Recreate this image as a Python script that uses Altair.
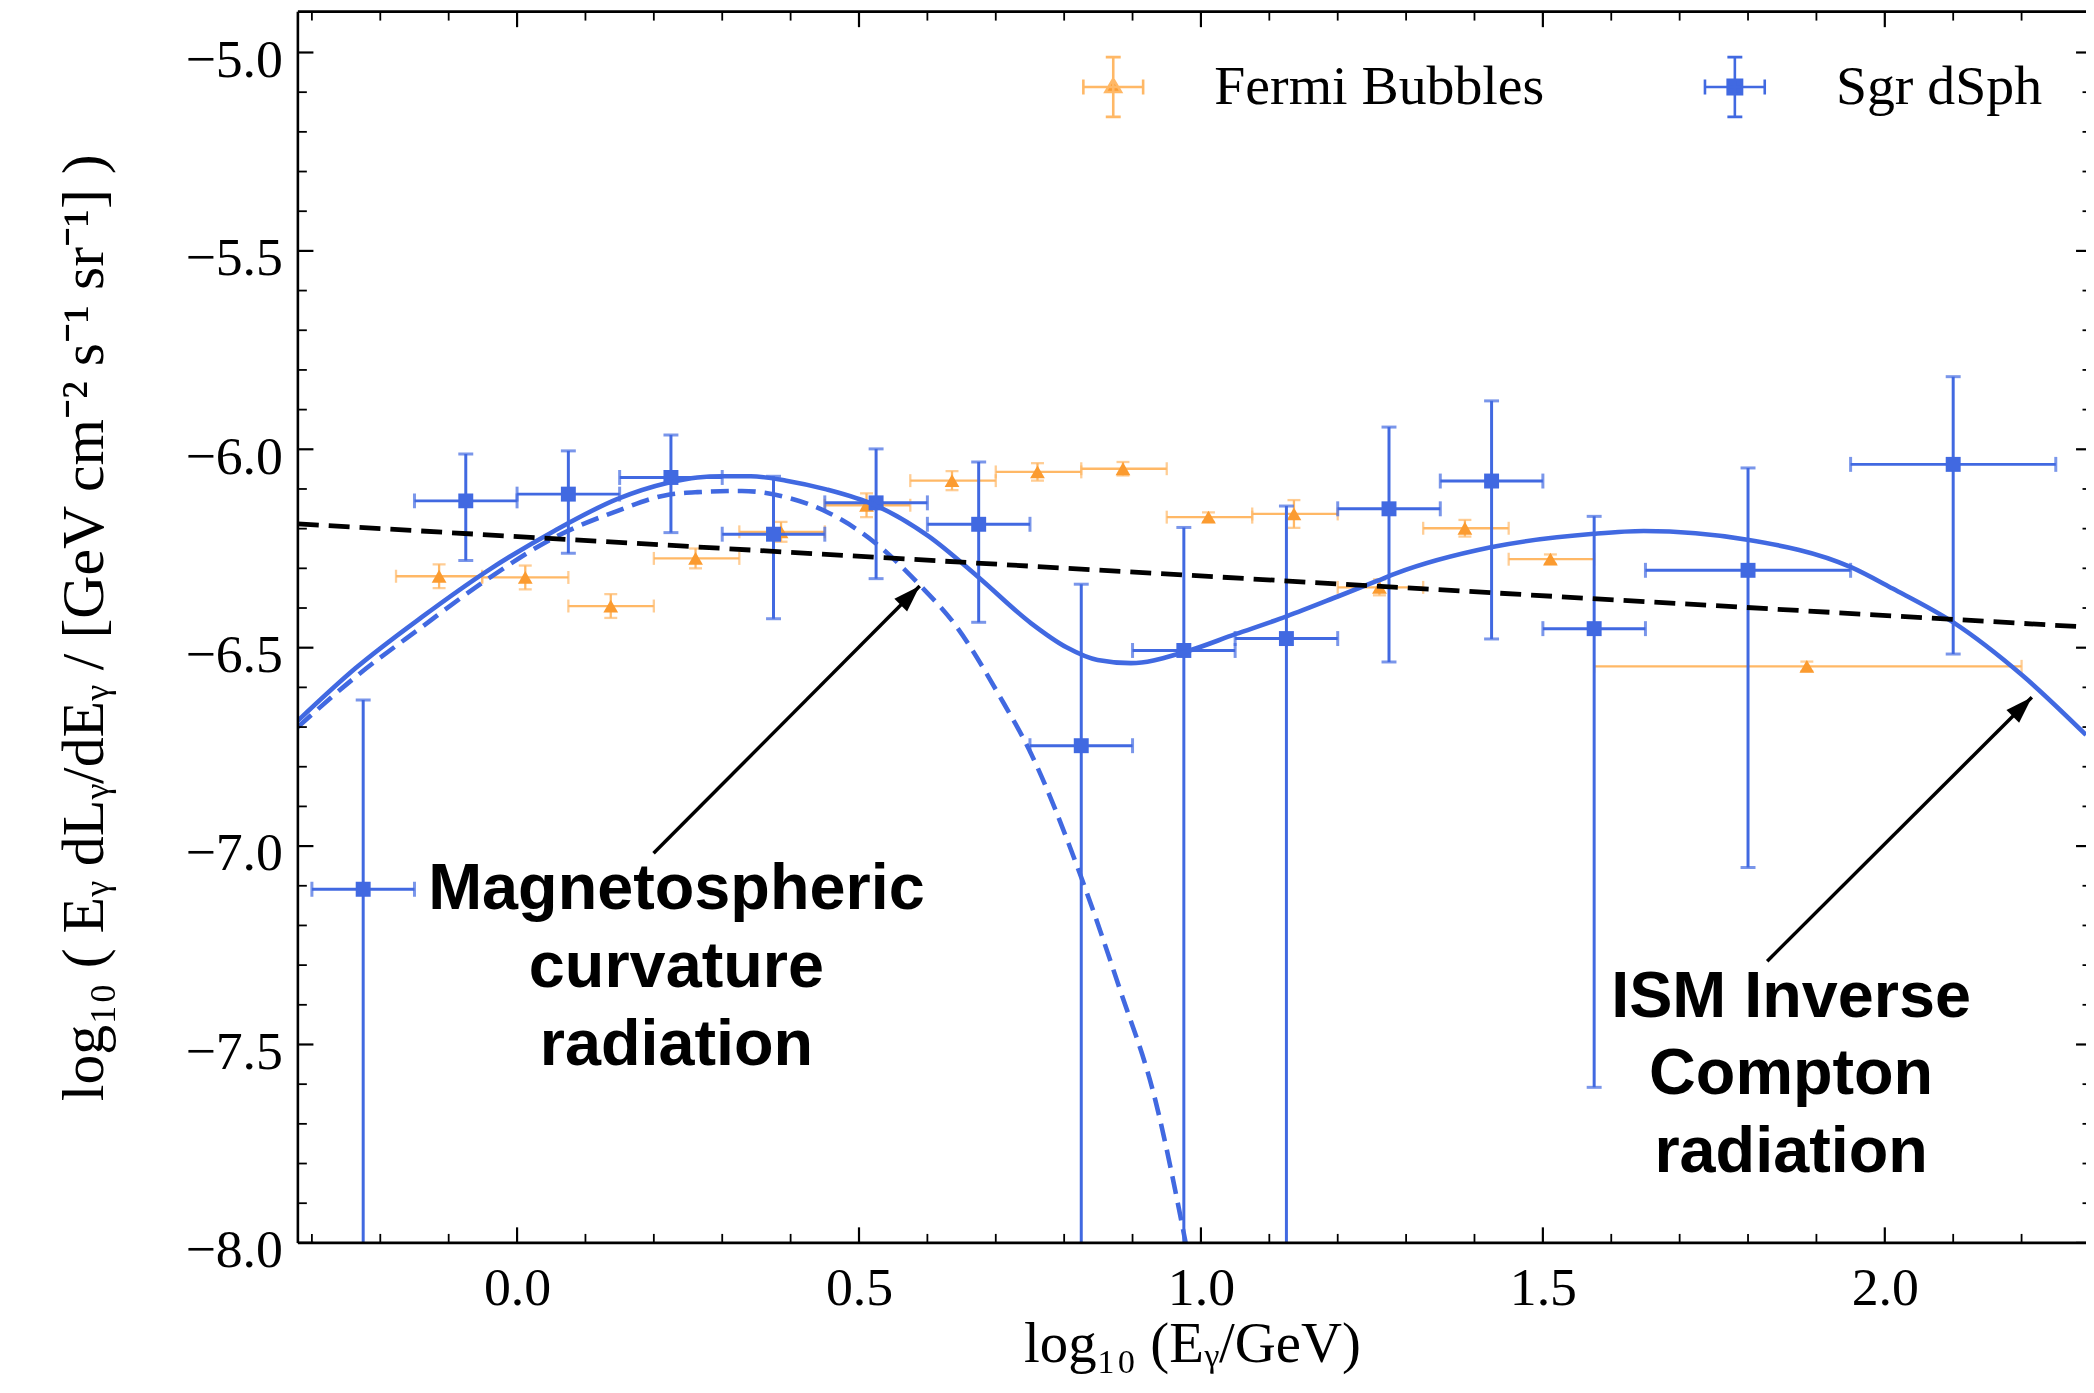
import math
import altair as alt
import pandas as pd

# ------------------------------------------------------------------ data
SERIES = ["Fermi Bubbles", "Sgr dSph"]

# Sgr dSph (blue squares)
sgr_x = [-0.225, -0.075, 0.075, 0.225, 0.375, 0.525, 0.675, 0.825, 0.975, 1.125, 1.275, 1.425, 1.575, 1.800, 2.100]
sgr_x_lo = [-0.30, -0.15, 0.00, 0.15, 0.30, 0.45, 0.60, 0.75, 0.90, 1.05, 1.20, 1.35, 1.50, 1.65, 1.95]
sgr_x_hi = [-0.15, 0.00, 0.15, 0.30, 0.45, 0.60, 0.75, 0.90, 1.05, 1.20, 1.35, 1.50, 1.65, 1.95, 2.25]
sgr_y = [-7.109, -6.130, -6.113, -6.071, -6.214, -6.135, -6.189, -6.747, -6.507, -6.477, -6.150, -6.080, -6.452, -6.305, -6.038]
sgr_y_hi = [-6.632, -6.012, -6.004, -5.964, -6.068, -5.999, -6.032, -6.340, -6.197, -6.143, -5.944, -5.878, -6.169, -6.047, -5.817]
sgr_y_lo = [None, -6.280, -6.262, -6.210, -6.427, -6.326, -6.436, None, None, None, -6.536, -6.478, -7.608, -7.054, -6.516]

# Fermi Bubbles (orange triangles)
fb_x = [-0.114, 0.012, 0.137, 0.261, 0.386, 0.511, 0.636, 0.761, 0.886, 1.011, 1.136, 1.261, 1.386, 1.511, 1.886]
fb_x_lo = [-0.177, -0.051, 0.075, 0.200, 0.325, 0.450, 0.575, 0.700, 0.825, 0.950, 1.075, 1.200, 1.325, 1.450, 1.575]
fb_x_hi = [-0.051, 0.075, 0.200, 0.325, 0.450, 0.575, 0.700, 0.825, 0.950, 1.075, 1.200, 1.325, 1.450, 1.575, 2.200]
fb_y = [-6.320, -6.323, -6.395, -6.275, -6.208, -6.141, -6.079, -6.057, -6.049, -6.171, -6.163, -6.348, -6.199, -6.277, -6.547]
fb_y_err = [0.030, 0.030, 0.030, 0.025, 0.025, 0.030, 0.024, 0.022, 0.017, 0.012, 0.035, 0.020, 0.021, 0.012, 0.012]

# total model (solid blue)
tot_x = [-0.3205, -0.2364, -0.1394, -0.0422, 0.0549, 0.1471, 0.2194, 0.2637, 0.2995, 0.3417, 0.3937, 0.4523,
         0.5238, 0.6016, 0.6730, 0.7513, 0.8033, 0.8489, 0.8977, 0.9757, 1.0503, 1.1253, 1.2001,
         1.2586, 1.2833, 1.4239, 1.5746, 1.6475, 1.7990, 1.9505, 2.0114, 2.0990, 2.2006, 2.2942]
tot_y = [-6.684, -6.552, -6.423, -6.305, -6.205, -6.125, -6.085, -6.071, -6.068, -6.068, -6.079, -6.101,
         -6.141, -6.219, -6.320, -6.438, -6.499, -6.531, -6.539, -6.511, -6.466, -6.421, -6.371,
         -6.331, -6.314, -6.247, -6.213, -6.206, -6.228, -6.297, -6.351, -6.435, -6.569, -6.720]

# magnetospheric curvature component (dashed blue)
mag_x = [-0.3205, -0.2364, -0.1394, -0.0422, 0.0549, 0.1471, 0.2194, 0.2637, 0.3286, 0.3937, 0.4589, 0.5238,
         0.5888, 0.6409, 0.7059, 0.7513, 0.8229, 0.8813, 0.9334, 0.9777]
mag_y = [-6.700, -6.574, -6.448, -6.326, -6.222, -6.155, -6.115, -6.108, -6.105, -6.121, -6.163, -6.236,
         -6.342, -6.443, -6.623, -6.766, -7.069, -7.360, -7.641, -8.000]

# power-law fit (dashed black)
pl_x = [-0.3205, 2.2942]
pl_y = [-6.188, -6.448]

# annotations
ann_text = ["Magnetospheric\ncurvature\nradiation", "ISM Inverse\nCompton\nradiation"]
ann_x = [0.233, 1.863]
ann_y = [-7.159, -7.430]
arr_x0 = [0.1996, 1.8280]
arr_y0 = [-7.018, -7.290]
arr_x1 = [0.5888, 2.2150]
arr_y1 = [-6.3447, -6.6250]

# axis ticks
x_major = [0.0, 0.5, 1.0, 1.5, 2.0]
x_minor = [-0.3, -0.2, -0.1, 0.1, 0.2, 0.3, 0.4, 0.6, 0.7, 0.8, 0.9,
           1.1, 1.2, 1.3, 1.4, 1.6, 1.7, 1.8, 1.9, 2.1, 2.2]
y_major = [-8.0, -7.5, -7.0, -6.5, -6.0, -5.5, -5.0]
y_minor = [-7.9, -7.8, -7.7, -7.6, -7.4, -7.3, -7.2, -7.1, -6.9, -6.8, -6.7, -6.6,
           -6.4, -6.3, -6.2, -6.1, -5.9, -5.8, -5.7, -5.6, -5.4, -5.3, -5.2, -5.1]

# ------------------------------------------------------------------ style
W, H = 1795, 1236
X_DOMAIN = [-0.3205, 2.2942]
Y_DOMAIN = [-8.0, -4.897]
BLUE = "#4169E1"
FB_LINE = "#ffb866"
FB_MARK = "#fb9b30"
SERIF = "Liberation Serif"

XS = alt.Scale(domain=X_DOMAIN, nice=False, zero=False)
YS = alt.Scale(domain=Y_DOMAIN, nice=False, zero=False)

XA = alt.Axis(values=x_major, format=".1f", title="log₁₀ (Eᵧ/GeV)",
              titleX=W / 2, titleY=119, titleAlign="center", titleBaseline="alphabetic",
              titleFontSize=57,
              labelBaseline="alphabetic", labelPadding=62, labelFlush=False,
              labelOverlap=False, labelBound=False, ticks=False, tickSize=0,
              domain=False, grid=False)
YA = alt.Axis(values=y_major, format=".1f",
              title="log₁₀ ( Eᵧ dLᵧ/dEᵧ / [GeV cm⁻² s⁻¹ sr⁻¹] )",
              titleX=-214, titleY=H / 2, titleAngle=270, titleAlign="center",
              titleBaseline="middle", titleFontSize=60,
              labelBaseline="alphabetic", labelOffset=24,
              labelPadding=15.5, labelAlign="right", labelFlush=False,
              labelOverlap=False, labelBound=False, ticks=False, tickSize=0,
              domain=False, grid=False)


def X(f):
    return alt.X(f, type="quantitative", scale=XS, axis=XA)


def Y(f):
    return alt.Y(f, type="quantitative", scale=YS, axis=YA)


layers = []

# ---------------- Fermi Bubbles
fb_df = pd.DataFrame({"x": fb_x, "xlo": fb_x_lo, "xhi": fb_x_hi, "y": fb_y,
                      "ylo": [y - e for y, e in zip(fb_y, fb_y_err)],
                      "yhi": [y + e for y, e in zip(fb_y, fb_y_err)]})
fb_base = alt.Chart(fb_df)
layers.append(fb_base.mark_rule(color=FB_LINE, strokeWidth=2.3, clip=True).encode(
    x=X("xlo"), x2="xhi", y=Y("y")))
layers.append(fb_base.mark_rule(color=FB_LINE, strokeWidth=2.3, clip=True).encode(
    x=X("x"), y=Y("ylo"), y2="yhi"))
fb_ycaps = pd.DataFrame({"x": fb_x + fb_x, "y": list(fb_df["ylo"]) + list(fb_df["yhi"])})
fb_xcaps = pd.DataFrame({"x": fb_x_lo + fb_x_hi, "y": fb_y + fb_y})
layers.append(alt.Chart(fb_ycaps).mark_tick(orient="horizontal", size=13, thickness=2.3,
                                            color=FB_LINE, clip=True).encode(x=X("x"), y=Y("y")))
layers.append(alt.Chart(fb_xcaps).mark_tick(orient="vertical", size=13, thickness=2.3,
                                            color=FB_LINE, clip=True).encode(x=X("x"), y=Y("y")))
layers.append(fb_base.mark_point(shape="triangle-up", size=220, filled=True, color=FB_MARK,
                                 opacity=1, clip=True).encode(x=X("x"), y=Y("y")))

# ---------------- Sgr dSph
sgr_df = pd.DataFrame({"x": sgr_x, "xlo": sgr_x_lo, "xhi": sgr_x_hi, "y": sgr_y,
                       "ylo": [v if v is not None else Y_DOMAIN[0] for v in sgr_y_lo],
                       "yhi": sgr_y_hi})
sgr_base = alt.Chart(sgr_df)
layers.append(sgr_base.mark_rule(color=BLUE, strokeWidth=3, clip=True).encode(
    x=X("xlo"), x2="xhi", y=Y("y")))
layers.append(sgr_base.mark_rule(color=BLUE, strokeWidth=3, clip=True).encode(
    x=X("x"), y=Y("ylo"), y2="yhi"))
cap_x = [x for x in sgr_x] + [x for x, lo in zip(sgr_x, sgr_y_lo) if lo is not None]
cap_y = list(sgr_y_hi) + [lo for lo in sgr_y_lo if lo is not None]
sgr_ycaps = pd.DataFrame({"x": cap_x, "y": cap_y})
sgr_xcaps = pd.DataFrame({"x": sgr_x_lo + sgr_x_hi, "y": sgr_y + sgr_y})
layers.append(alt.Chart(sgr_ycaps).mark_tick(orient="horizontal", size=15, thickness=3,
                                             color=BLUE, clip=True).encode(x=X("x"), y=Y("y")))
layers.append(alt.Chart(sgr_xcaps).mark_tick(orient="vertical", size=15, thickness=3,
                                             color=BLUE, clip=True).encode(x=X("x"), y=Y("y")))
layers.append(sgr_base.mark_point(shape="square", size=225, filled=True, color=BLUE,
                                  opacity=1, clip=True).encode(x=X("x"), y=Y("y")))

# ---------------- model curves
layers.append(alt.Chart(pd.DataFrame({"x": mag_x, "y": mag_y})).mark_line(
    color=BLUE, strokeWidth=4.6, strokeDash=[18, 9], interpolate="monotone", clip=True
).encode(x=X("x"), y=Y("y")))
layers.append(alt.Chart(pd.DataFrame({"x": tot_x, "y": tot_y})).mark_line(
    color=BLUE, strokeWidth=4.6, interpolate="monotone", clip=True
).encode(x=X("x"), y=Y("y")))
layers.append(alt.Chart(pd.DataFrame({"x": pl_x, "y": pl_y})).mark_line(
    color="black", strokeWidth=4.8, strokeDash=[21, 10], clip=True
).encode(x=X("x"), y=Y("y")))

# ---------------- annotations with arrows
ppx = W / (X_DOMAIN[1] - X_DOMAIN[0])
ppy = H / (Y_DOMAIN[1] - Y_DOMAIN[0])
arr_ang = [math.degrees(math.atan2((b - a) * ppx, (d - c) * ppy))
           for a, b, c, d in zip(arr_x0, arr_x1, arr_y0, arr_y1)]
arr_df = pd.DataFrame({"x0": arr_x0, "y0": arr_y0, "x1": arr_x1, "y1": arr_y1, "ang": arr_ang})
layers.append(alt.Chart(arr_df).mark_rule(color="black", strokeWidth=3.5).encode(
    x=X("x0"), y=Y("y0"), x2="x1", y2="y1"))
HEAD = "M0,0L0.9,2.7L-0.9,2.7Z"
layers.append(alt.Chart(arr_df).mark_point(shape=HEAD, size=400, filled=True, color="black",
                                           opacity=1).encode(
    x=X("x1"), y=Y("y1"), angle=alt.Angle("ang:Q", scale=None)))
ann_df = pd.DataFrame({"x": ann_x, "y": ann_y, "t": ann_text})
layers.append(alt.Chart(ann_df).mark_text(
    font="Liberation Sans", fontWeight="bold", fontSize=65, lineHeight=78,
    align="center", baseline="alphabetic", lineBreak="\n", color="black"
).encode(x=X("x"), y=Y("y"), text="t:N"))

# ---------------- inward ticks and frame
TICK = 15.6
MINOR = 9


def xticks(vals, y0, y1, sw):
    return alt.Chart(pd.DataFrame({"v": vals})).mark_rule(color="black", strokeWidth=sw).encode(
        x=X("v"), y=alt.value(y0), y2=alt.value(y1))


def yticks(vals, x0, x1, sw):
    return alt.Chart(pd.DataFrame({"v": vals})).mark_rule(color="black", strokeWidth=sw).encode(
        y=Y("v"), x=alt.value(x0), x2=alt.value(x1))


layers += [
    xticks(x_major, H, H - TICK, 2.2), xticks(x_minor, H, H - MINOR, 1.8),
    xticks(x_major, 0, TICK, 2.2), xticks(x_minor, 0, MINOR, 1.8),
    yticks(y_major, 0, TICK, 2.2), yticks(y_minor, 0, MINOR, 1.8),
    yticks(y_major, W, W - 10, 2.2), yticks(y_minor, W, W - 3.5, 1.8),
]
frame = alt.Chart(pd.DataFrame({"k": [0]}))
layers += [
    frame.mark_rule(color="black", strokeWidth=2.6).encode(x=alt.value(0), y=alt.value(0), y2=alt.value(H)),
    frame.mark_rule(color="black", strokeWidth=2.6).encode(y=alt.value(0), x=alt.value(0), x2=alt.value(W)),
    frame.mark_rule(color="black", strokeWidth=2.6).encode(y=alt.value(H), x=alt.value(0), x2=alt.value(W)),
]

# ---------------- legend carrier (invisible marks, errorbar-style legend symbols)
CROSS = "M-1,0L1,0M0,-1L0,1M-0.25,-1L0.25,-1M-0.25,1L0.25,1M-1,-0.25L-1,0.25M1,-0.25L1,0.25"
PATH_FB = CROSS + "M0,-0.27L0.26,0.17L-0.26,0.17Z"
PATH_SGR = CROSS + "M-0.24,-0.24L0.24,-0.24L0.24,0.24L-0.24,0.24Z"
LEG = alt.Legend(title=None, orient="top-right", direction="horizontal", offset=44, padding=0,
                 symbolSize=3600, symbolStrokeWidth=2.6, symbolOpacity=1,
                 symbolFillColor="white", symbolStrokeColor="white",
                 labelFont=SERIF, labelFontSize=56, labelColor="black", labelOffset=70,
                 columnPadding=155, labelLimit=1000, rowPadding=0)
leg_df = pd.DataFrame({"series": SERIES, "x": [fb_x[0], sgr_x[0]], "y": [fb_y[0], sgr_y[0]]})
layers.append(alt.Chart(leg_df).mark_point(opacity=0, filled=True).encode(
    x=X("x"), y=Y("y"),
    fill=alt.Fill("series:N", scale=alt.Scale(domain=SERIES, range=[FB_MARK, BLUE]), legend=LEG),
    stroke=alt.Stroke("series:N", scale=alt.Scale(domain=SERIES, range=[FB_LINE, BLUE]), legend=LEG),
    shape=alt.Shape("series:N", scale=alt.Scale(domain=SERIES, range=[PATH_FB, PATH_SGR]), legend=LEG),
))

chart = alt.layer(*layers).properties(
    width=W, height=H,
    autosize=alt.AutoSizeParams(type="none"),
    padding={"left": 291, "top": 1, "right": 0, "bottom": 134},
).configure_view(stroke=None).configure_axis(
    labelFont=SERIF, labelFontSize=54, labelColor="black",
    titleFont=SERIF, titleFontSize=56, titleFontWeight="normal", titleColor="black",
)

chart.save("out.html", embed_options={"renderer": "svg", "actions": False})
